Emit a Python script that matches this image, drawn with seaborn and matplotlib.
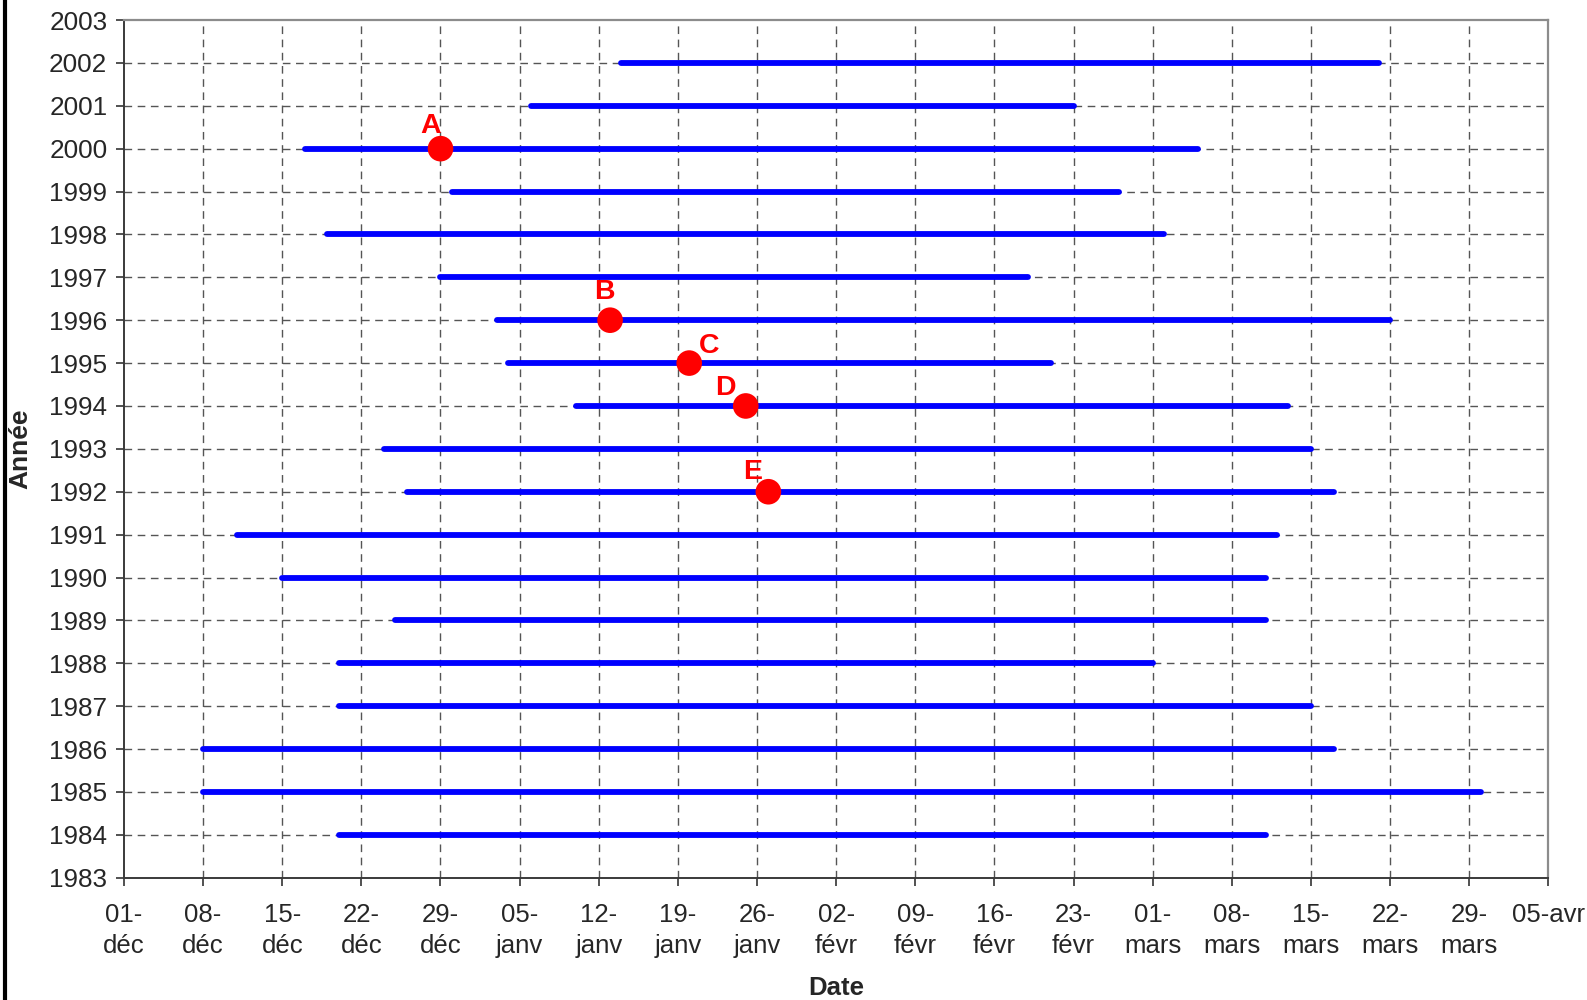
import pandas as pd
import matplotlib
matplotlib.use("Agg")
import matplotlib.pyplot as plt
from matplotlib.lines import Line2D
import seaborn as sns

# data : début / fin de la période (saison de référence 1999-2000, année bissextile)
years = [2002, 2001, 2000, 1999, 1998, 1997, 1996, 1995, 1994, 1993,
         1992, 1991, 1990, 1989, 1988, 1987, 1986, 1985, 1984]
starts = ["01-14", "01-06", "12-17", "12-30", "12-19", "12-29", "01-03", "01-04", "01-10", "12-24",
          "12-26", "12-11", "12-15", "12-25", "12-20", "12-20", "12-08", "12-08", "12-20"]
ends = ["03-21", "02-23", "03-05", "02-27", "03-02", "02-19", "03-22", "02-21", "03-13", "03-15",
        "03-17", "03-12", "03-11", "03-11", "03-01", "03-15", "03-17", "03-30", "03-11"]

point_labels = ["A", "B", "C", "D", "E"]
point_years = [2000, 1996, 1995, 1994, 1992]
point_dates = ["12-29", "01-13", "01-20", "01-25", "01-27"]

tick_labels = ["01-\ndéc", "08-\ndéc", "15-\ndéc", "22-\ndéc", "29-\ndéc",
               "05-\njanv", "12-\njanv", "19-\njanv", "26-\njanv",
               "02-\nfévr", "09-\nfévr", "16-\nfévr", "23-\nfévr",
               "01-\nmars", "08-\nmars", "15-\nmars", "22-\nmars", "29-\nmars", "05-avr"]


def to_date(md):
    m = int(md[:2])
    return pd.Timestamp(f"{1999 if m >= 9 else 2000}-{md}")


# 1. TABLES
bars = pd.DataFrame({
    "year": years * 2,
    "date": [to_date(d) for d in starts] + [to_date(d) for d in ends],
})
pts = pd.DataFrame({
    "year": point_years,
    "date": [to_date(d) for d in point_dates],
    "label": point_labels,
})

# 2. STYLE
sns.set_style("white")
plt.rcParams["font.family"] = ["Liberation Sans", "DejaVu Sans"]

fig = plt.figure(figsize=(15.87, 10), dpi=100)
ax = fig.add_axes([0.0781, 0.1223, 0.8976, 0.8577])

grid_kw = dict(color="#555555", lw=1, dashes=(5.5, 4), zorder=0)
x_ticks = pd.date_range("1999-12-01", "2000-04-05", freq="7D")
for t in x_ticks[1:-1]:
    ax.axvline(t, **grid_kw)
for y in range(1984, 2003):
    ax.axhline(y, **grid_kw)

# 3. BARS + POINTS
sns.lineplot(data=bars, x="date", y="year", units="year", estimator=None,
             color="#0000ff", linewidth=4.2, solid_capstyle="round",
             legend=False, ax=ax, zorder=2)
sns.scatterplot(data=pts, x="date", y="year", color="#ff0000", s=340,
                edgecolor="none", legend=False, ax=ax, zorder=3)

label_offsets = [(-7, 16), (-4, 20), (14, 12), (-15, 13), (-11, 14)]
for (_, r), off in zip(pts.iterrows(), label_offsets):
    ax.annotate(r["label"], (r["date"], r["year"]), xytext=off,
                textcoords="offset points", ha="center", va="center",
                color="#ff0000", fontsize=20.5, fontweight="bold", zorder=4)

# 4. AXES
ax.set_xlim(x_ticks[0], x_ticks[-1])
ax.set_ylim(1983, 2003)
ax.set_xticks(x_ticks)
ax.set_xticklabels(tick_labels, fontsize=18.5, linespacing=1.4)
ax.set_yticks(range(1983, 2004))
ax.set_yticklabels([str(y) for y in range(1983, 2004)], fontsize=18.8)
ax.tick_params(axis="both", direction="out", length=6, width=1.2,
               color="#333333", bottom=True, left=True)
ax.tick_params(axis="x", pad=12)
ax.tick_params(axis="y", pad=6)

ax.set_xlabel("Date", fontsize=18.5, fontweight="bold")
ax.set_ylabel("Année", fontsize=19, fontweight="bold")
ax.xaxis.set_label_coords(0.5, -0.115)
ax.yaxis.set_label_coords(-0.0646, 0.5)

for side in ["left", "bottom"]:
    ax.spines[side].set_color("#3a3a3a")
    ax.spines[side].set_linewidth(1.4)
for side in ["top", "right"]:
    ax.spines[side].set_color("#8c8c8c")
    ax.spines[side].set_linewidth(1.6)

fig.add_artist(Line2D([0.0032, 0.0032], [0, 1], transform=fig.transFigure,
                      color="black", lw=3))

plt.savefig("out.png", dpi=100)
